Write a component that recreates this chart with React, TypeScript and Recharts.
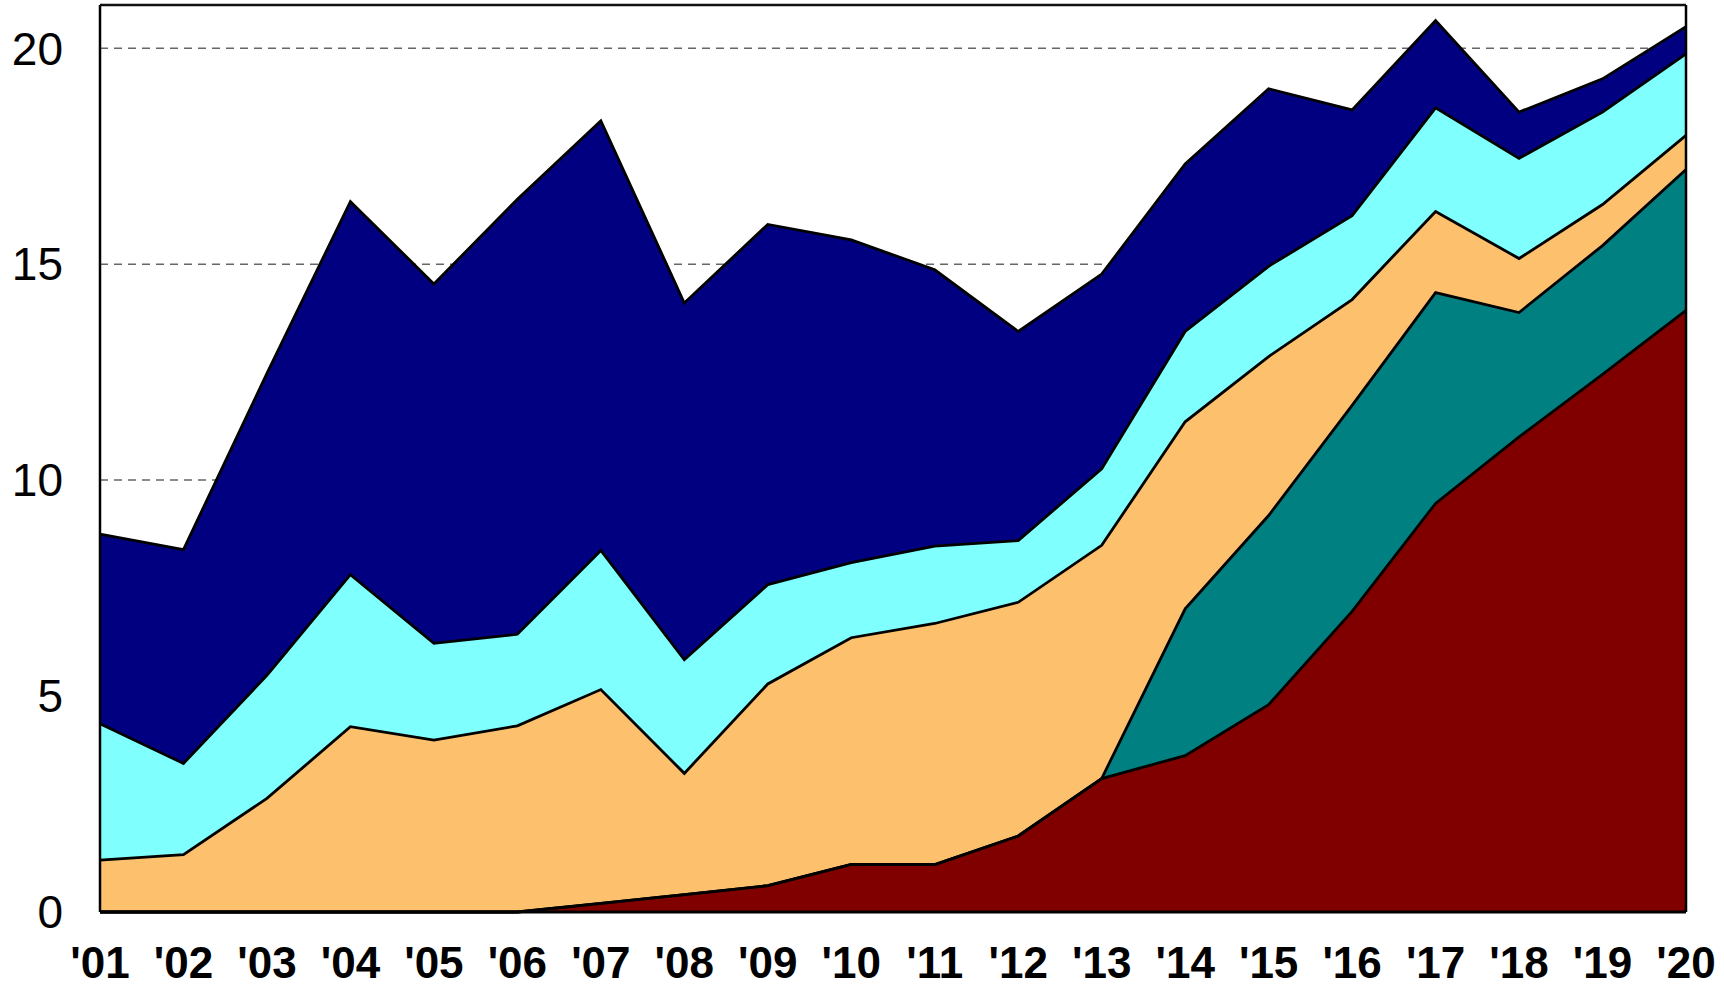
import React from "react";
import {
  AreaChart,
  Area,
  XAxis,
  YAxis,
  CartesianGrid,
} from "recharts";

const years = ["'01", "'02", "'03", "'04", "'05", "'06", "'07", "'08", "'09", "'10", "'11", "'12", "'13", "'14", "'15", "'16", "'17", "'18", "'19", "'20"];

const redSeries = [0, 0, 0, 0, 0, 0, 0.2, 0.4, 0.61, 1.1, 1.1, 1.76, 3.09, 3.62, 4.8, 6.96, 9.46, 11.0, 12.45, 13.93];
const tealSeries = [0, 0, 0, 0, 0, 0, 0, 0, 0, 0, 0, 0, 0, 3.4, 4.38, 4.77, 4.88, 2.88, 2.98, 3.26];
const orangeSeries = [1.2, 1.33, 2.63, 4.29, 3.98, 4.31, 4.95, 2.81, 4.67, 5.25, 5.58, 5.41, 5.4, 4.33, 3.68, 2.45, 1.88, 1.25, 0.95, 0.79];
const cyanSeries = [3.16, 2.11, 2.85, 3.52, 2.24, 2.12, 3.22, 2.63, 2.3, 1.74, 1.79, 1.43, 1.77, 2.09, 2.09, 1.94, 2.4, 2.32, 2.14, 1.89];
const navySeries = [4.39, 4.95, 6.99, 8.64, 8.32, 10.07, 9.95, 8.26, 8.34, 7.47, 6.4, 4.84, 4.51, 3.88, 4.11, 2.45, 2.02, 1.07, 0.77, 0.63];

const yTicks = [0, 5, 10, 15, 20];

const data = years.map((y, i) => ({
  year: y,
  red: redSeries[i],
  teal: tealSeries[i],
  orange: orangeSeries[i],
  cyan: cyanSeries[i],
  navy: navySeries[i],
}));

const layers = [
  { key: "red", color: "#800000" },
  { key: "teal", color: "#008080" },
  { key: "orange", color: "#FDC06C" },
  { key: "cyan", color: "#80FFFF" },
  { key: "navy", color: "#000080" },
];

const FONT = "'Liberation Sans', Arial, sans-serif";
const SW = 2.8;

export default function App() {
  return (
    <div style={{ position: "absolute", left: 0, top: 0, width: 1724, height: 984, background: "#fff", overflow: "visible" }}>
      <AreaChart
        width={1724}
        height={1000}
        data={data}
        margin={{ top: 4, right: 37, left: 0, bottom: 16 }}
        style={{ overflow: "visible" }}
      >
        <CartesianGrid
          horizontal={true}
          vertical={false}
          stroke="#666"
          strokeWidth={1.5}
          strokeDasharray="8 6"
          horizontalValues={[10, 15, 20]}
        />
        <XAxis
          dataKey="year"
          interval={0}
          tickLine={false}
          tickSize={0}
          tickMargin={35}
          height={72}
          axisLine={{ stroke: "#000", strokeWidth: 3 }}
          tick={{ fill: "#000", fontSize: 44, fontWeight: "bold", fontFamily: FONT }}
        />
        <XAxis
          xAxisId="top"
          dataKey="year"
          orientation="top"
          height={1}
          interval={0}
          tick={false}
          tickLine={false}
          axisLine={{ stroke: "#111", strokeWidth: 2.5 }}
        />
        <YAxis
          domain={[0, 21]}
          ticks={yTicks}
          width={100}
          tickLine={false}
          tickSize={0}
          tickMargin={37}
          axisLine={{ stroke: "#000", strokeWidth: 2.5 }}
          tick={{ fill: "#000", fontSize: 46, fontFamily: FONT }}
        />
        <YAxis
          yAxisId="right"
          orientation="right"
          domain={[0, 21]}
          width={1}
          tick={false}
          tickLine={false}
          axisLine={{ stroke: "#000", strokeWidth: 2.5 }}
        />
        {layers.map((l) => (
          <Area
            key={"fill-" + l.key}
            type="linear"
            dataKey={l.key}
            stackId="fill"
            stroke="none"
            fill={l.color}
            fillOpacity={1}
            isAnimationActive={false}
          />
        ))}
        {layers.map((l) => (
          <Area
            key={"line-" + l.key}
            type="linear"
            dataKey={l.key}
            stackId="line"
            stroke="#000"
            strokeWidth={SW}
            fill="none"
            fillOpacity={0}
            isAnimationActive={false}
          />
        ))}
      </AreaChart>
    </div>
  );
}
